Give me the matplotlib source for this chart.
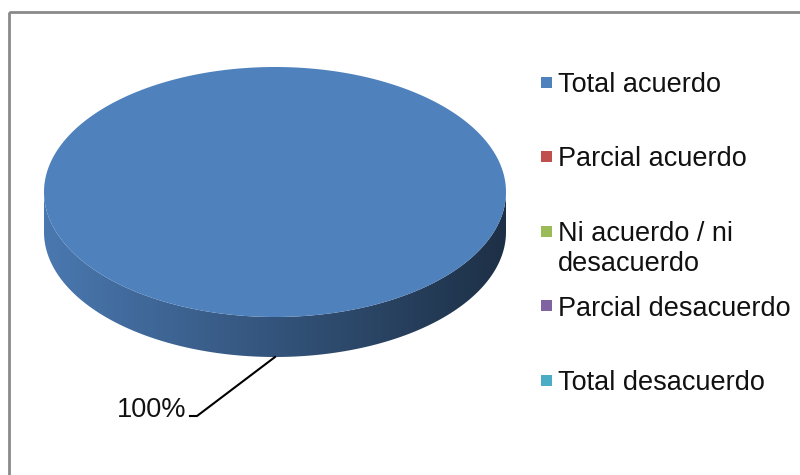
import matplotlib
matplotlib.use("Agg")
import matplotlib.pyplot as plt
import numpy as np
from matplotlib.patches import Polygon, Rectangle
from matplotlib.colors import to_rgb

# data
categories = ["Total acuerdo", "Parcial acuerdo", "Ni acuerdo / ni\ndesacuerdo",
              "Parcial desacuerdo", "Total desacuerdo"]
values = [100, 0, 0, 0, 0]
colors = ["#4f81bd", "#c0504d", "#9bbb59", "#8064a2", "#4bacc6"]

plt.rcParams["font.family"] = ["Liberation Sans", "DejaVu Sans"]

W, H = 800, 475
fig = plt.figure(figsize=(W / 100, H / 100), dpi=100)
ax = fig.add_axes([0, 0, 1, 1])
ax.set_xlim(0, W)
ax.set_ylim(H, 0)
ax.axis("off")

# chart frame (cut off on the right and at the bottom)
ax.add_patch(Rectangle((9, 12), 900, 600, fill=False, ec="#8a8a8a", lw=2.0))

# pie geometry in pixels
cx, cy = 275, 192
a, b = 231, 125
depth = 40


def ellipse_pt(phi):
    # phi: clockwise angle from 12 o'clock, degrees
    r = np.radians(phi)
    return cx + a * np.sin(r), cy - b * np.cos(r)


total = float(sum(values))
start = 0.0
label_info = []
for val, col in zip(values, colors):
    if val <= 0:
        continue
    ext = 360.0 * val / total
    phi0, phi1 = start, start + ext
    start = phi1

    # side wall: part of the arc facing the viewer (90..270 deg)
    s0, s1 = max(phi0, 90.0), min(phi1, 270.0)
    if s1 > s0:
        ph = np.linspace(s0, s1, 200)
        xs, ys = ellipse_pt(ph)
        verts = np.vstack([np.column_stack([xs, ys]),
                           np.column_stack([xs[::-1], ys[::-1] + depth])])
        side = Polygon(verts, closed=True, fc="none", ec="none")
        ax.add_patch(side)
        base = np.array(to_rgb(col))
        fac = np.linspace(0.93, 0.37, 256)
        grad = (base[None, :] * fac[:, None])[None, :, :]
        im = ax.imshow(grad, extent=(cx - a, cx + a, cy + b + depth + 2, cy - 2),
                       aspect="auto", interpolation="bilinear", zorder=1)
        im.set_clip_path(side)

    # top face
    ph = np.linspace(phi0, phi1, 400)
    xs, ys = ellipse_pt(ph)
    pts = np.column_stack([xs, ys])
    if ext < 360:
        pts = np.vstack([[cx, cy], pts])
    ax.add_patch(Polygon(pts, closed=True, fc=col, ec="none", zorder=2))

    mid = (phi0 + phi1) / 2
    mx, my = ellipse_pt(mid)
    if np.cos(np.radians(mid)) < 0:
        my += depth
    label_info.append((mx, my, val))

# data labels with leader lines
for mx, my, val in label_info:
    ex, ey = mx - 78, my + 59
    ax.plot([mx, ex, ex - 7], [my, ey, ey], color="black", lw=1.5, zorder=3)
    ax.text(ex - 11, ey + 1, f"{val / total:.0%}", ha="right", va="baseline",
            fontsize=19.5, color="#111111")

# legend
slot0, step, line_h = 82, 74.5, 30
for i, (cat, col) in enumerate(zip(categories, colors)):
    y = slot0 + i * step
    ax.add_patch(Rectangle((541, y - 5.5), 11, 11, fc=col, ec="none"))
    for k, line in enumerate(cat.split("\n")):
        ax.text(558, y + 10 + k * line_h, line, ha="left", va="baseline",
                fontsize=19.5, color="#111111")

fig.savefig("out.png", dpi=100)
